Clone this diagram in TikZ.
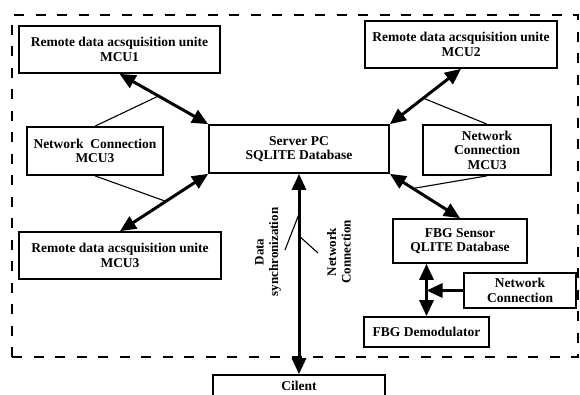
\documentclass[tikz,border=0pt]{standalone}
\usepackage{fontspec}
\setmainfont{Liberation Serif}
\usetikzlibrary{arrows.meta,calc}
\begin{document}
\begin{tikzpicture}[x=1pt,y=-1pt,
  box/.style={draw,line width=1.7pt,inner sep=1pt,align=center,font=\fontsize{13.5}{14.5}\selectfont\bfseries},
  lbl/.style={inner sep=0pt,align=center,rotate=90,font=\fontsize{13}{14.5}\selectfont\bfseries},
  dbl/.style={line width=3pt,{Triangle[length=16pt,width=14pt]}-{Triangle[length=16pt,width=14pt]}},
  sgl/.style={line width=3pt,-{Triangle[length=16pt,width=14pt]}},
  thin/.style={line width=1.1pt},
  border/.style={line width=2.7pt,dash pattern=on 10pt off 11.5pt}]
\clip (0,0) rectangle (580,394);
\fill[white] (0,0) rectangle (580,394);
\draw[border] (12,357) -- (12,15) -- (578,15) -- (578,357) -- cycle;
\node[box,minimum width=201pt,minimum height=47pt] (m1) at (119.5,49.5) {Remote data acsquisition unite\\MCU1};
\node[box,minimum width=192pt,minimum height=47pt] (m2) at (461,44.5) {Remote data acsquisition unite\\MCU2};
\node[box,minimum width=136pt,minimum height=48pt] (ncl) at (95,151) {Network\ \ Connection\\MCU3};
\node[box,minimum width=180pt,minimum height=48pt] (srv) at (299,149) {Server PC\\SQLITE Database};
\node[box,minimum width=128pt,minimum height=50pt] (ncr) at (487,150) {Network\\Connection\\MCU3};
\node[box,minimum width=202pt,minimum height=47pt] (m3) at (120,255.5) {Remote data acsquisition unite\\MCU3};
\node[box,minimum width=134pt,minimum height=44pt] (fbgs) at (460,241) {FBG Sensor\\QLITE Database};
\node[box,minimum width=112pt,minimum height=35pt] (ncb) at (520,290.5) {Network\\Connection};
\node[box,minimum width=125pt,minimum height=30pt] (fbgd) at (426.5,332) {FBG Demodulator};
\node[box,minimum width=172pt,minimum height=22pt] (cl) at (299,386) {Cilent};
\node[lbl] (ds) at (268,252) {Data\\synchronization};
\node[lbl] (nc) at (339,252) {Network\\Connection};
\coordinate (dsend) at (285,250);
\coordinate (ncend) at (318,253);
% thick connectors
\draw[dbl] (m1.south) -- (srv.north west);
\draw[dbl] (srv.south west) -- (m3.north);
\draw[dbl] (m2.south) -- (srv.north east);
\draw[dbl] (srv.south east) -- (fbgs.north);
\draw[dbl] (srv.south) -- (cl.north);
\draw[dbl] (fbgs.south -| fbgd.north) -- (fbgd.north);
\draw[sgl] (ncb.west) -- (ncb.west -| fbgd.north);
% thin connectors
\draw[thin] (ncl.north) -- ($(m1.south)!0.44!(srv.north west)$);
\draw[thin] (ncl.south) -- ($(srv.south west)!0.48!(m3.north)$);
\draw[thin] (ncr.north) -- ($(m2.south)!0.53!(srv.north east)$);
\draw[thin] (ncr.south) -- ($(srv.south east)!0.33!(fbgs.north)$);
\draw[thin] (dsend) -- ($(srv.south)!0.2!(cl.north)$);
\draw[thin] (ncend) -- ($(srv.south)!0.31!(cl.north)$);
\end{tikzpicture}
\end{document}
